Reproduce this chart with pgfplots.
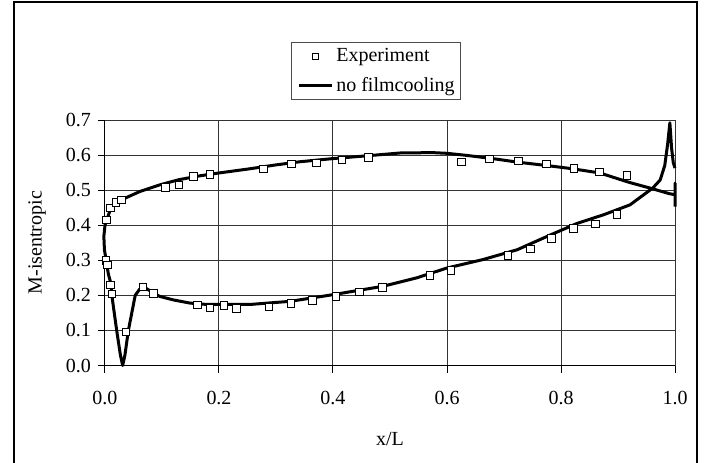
\documentclass[border=0pt]{standalone}
\usepackage{fontspec}
\setmainfont{Liberation Serif}
\usepackage{pgfplots}
\pgfplotsset{compat=1.18}

\begin{document}
\fontsize{10pt}{12pt}\selectfont
\begin{tikzpicture}
\useasboundingbox (0,0) rectangle (354pt,231pt);
\draw[line width=0.6pt] (7pt,-2pt) -- (7pt,230pt) -- (348.5pt,230pt) -- (348.5pt,-2pt);
\begin{axis}[
    at={(52.5pt,48.25pt)}, anchor=south west,
    scale only axis,
    width=285pt, height=122.75pt,
    xmin=0, xmax=1, ymin=0, ymax=0.7,
    clip=false,
    axis lines*=left,
    axis line style={line width=0.5pt, black},
    xtick={0,0.2,0.4,0.6,0.8,1.0},
    ytick={0,0.1,0.2,0.3,0.4,0.5,0.6,0.7},
    xticklabels={0.0,0.2,0.4,0.6,0.8,1.0},
    yticklabels={0.0,0.1,0.2,0.3,0.4,0.5,0.6,0.7},
    tick align=outside,
    major tick length=3.5pt,
    tick style={line width=0.5pt, black},
    grid=major,
    major grid style={line width=0.5pt, black!80},
    every tick label/.append style={font=\fontsize{10pt}{12pt}\selectfont},
    xticklabel style={anchor=north, yshift=-6pt},
    yticklabel style={anchor=east},
    xlabel={x/L}, ylabel={M-isentropic},
    every axis x label/.style={at={(axis description cs:0.5,-0.301)}, anchor=center, font=\fontsize{10pt}{12pt}\selectfont},
    every axis y label/.style={at={(axis description cs:-0.119,0.5)}, anchor=center, rotate=90, font=\fontsize{10pt}{12pt}\selectfont},
    reverse legend,
    legend cell align=left,
    legend style={at={(axis description cs:0.326,1.318)}, anchor=north west,
        draw=black!70, line width=0.5pt, inner xsep=3pt, inner ysep=2.75pt,
        font=\fontsize{10pt}{12pt}\selectfont,
        row sep=6.4pt, column sep=1.5pt,
        nodes={inner sep=0pt}},
]

\addplot[black, line width=1.5pt, line join=round,
    legend image code/.code={\draw[black, line width=1.5pt] (0pt,0pt) -- (16.5pt,0pt);}]
coordinates {
    (1.0,0.453) (1.0,0.52) (1.0,0.487) (0.99,0.490) (0.956,0.506) (0.92,0.522)
    (0.868,0.549) (0.82,0.561) (0.781,0.569) (0.723,0.580) (0.68,0.590)
    (0.635,0.599) (0.6,0.605) (0.575,0.607) (0.518,0.606) (0.46,0.598)
    (0.4,0.590) (0.342,0.581) (0.3,0.572) (0.25,0.560) (0.2,0.549)
    (0.167,0.541) (0.13,0.530) (0.096,0.515) (0.061,0.496) (0.035,0.477)
    (0.02,0.465) (0.01,0.447) (0.004,0.42) (0.0,0.40) (-0.002,0.368)
    (-0.001,0.33) (0.002,0.30) (0.006,0.26) (0.01,0.236) (0.012,0.2)
    (0.0205,0.1) (0.027,0.03) (0.031,0.0) (0.035,0.03) (0.041,0.1)
    (0.053,0.2) (0.061,0.218) (0.070,0.222) (0.085,0.207) (0.096,0.197)
    (0.12,0.187) (0.149,0.178) (0.179,0.174) (0.254,0.174) (0.325,0.183)
    (0.4,0.202) (0.488,0.226) (0.547,0.250) (0.6,0.278) (0.663,0.302)
    (0.723,0.330) (0.781,0.372) (0.828,0.405) (0.875,0.430) (0.921,0.458)
    (0.961,0.506) (0.974,0.529) (0.982,0.57) (0.987,0.63) (0.991,0.692)
    (0.994,0.62) (0.997,0.578) (1.0,0.563)
};
\addlegendentry{no filmcooling}

\addplot[only marks, mark=square*, mark size=1.9pt,
    mark options={fill=white, draw=black, line width=0.5pt},
    legend image code/.code={\path[draw=none] (0pt,0pt) -- (16.5pt,0pt);
        \draw[black, fill=white, line width=0.4pt] (6.7pt,-1.5pt) rectangle (9.7pt,1.5pt);}]
coordinates {
    (0.003,0.415) (0.010,0.449) (0.019,0.465) (0.029,0.472) (0.106,0.507)
    (0.130,0.515) (0.155,0.539) (0.184,0.544) (0.278,0.560) (0.327,0.574)
    (0.371,0.577) (0.416,0.586) (0.462,0.593) (0.625,0.580) (0.675,0.589)
    (0.725,0.583) (0.775,0.574) (0.823,0.561) (0.868,0.552) (0.916,0.541)
    (0.002,0.300) (0.004,0.287) (0.010,0.230) (0.012,0.204) (0.037,0.096)
    (0.067,0.224) (0.085,0.205) (0.162,0.172) (0.184,0.164) (0.209,0.171)
    (0.231,0.162) (0.288,0.167) (0.326,0.176) (0.364,0.185) (0.405,0.197)
    (0.446,0.210) (0.487,0.223) (0.570,0.256) (0.607,0.271) (0.707,0.313)
    (0.746,0.332) (0.783,0.362) (0.822,0.390) (0.861,0.404) (0.898,0.430)
};
\addlegendentry{Experiment}

\end{axis}
\end{tikzpicture}
\end{document}
